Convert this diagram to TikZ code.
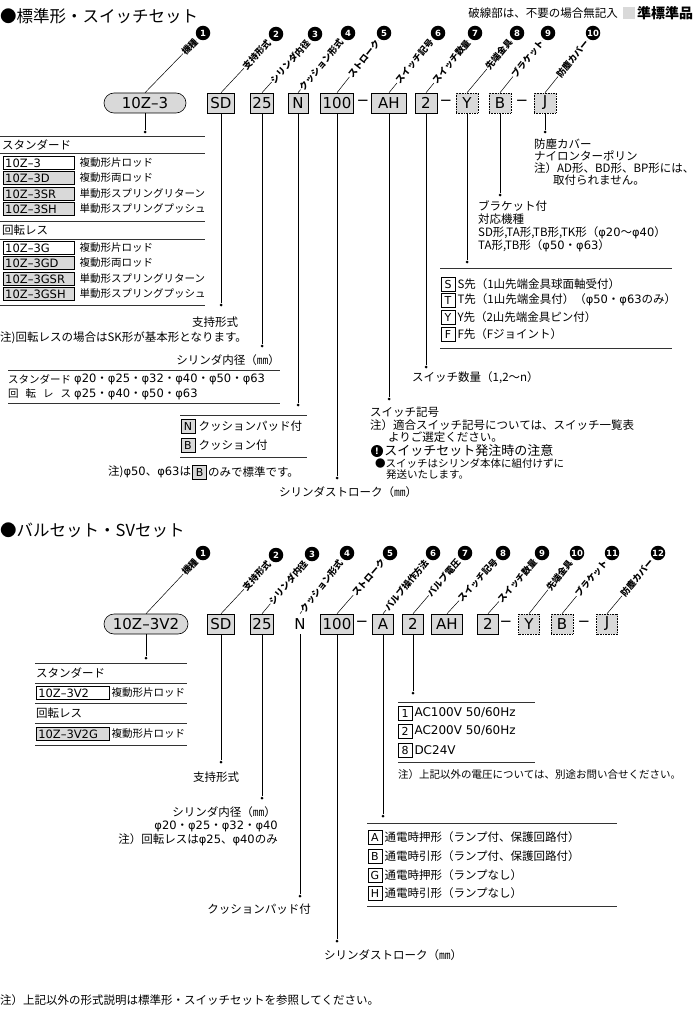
\documentclass[tikz,border=0pt]{standalone}
\usepackage{fontspec}
\setmainfont{Noto Sans CJK JP}
\newfontfamily\codefont{DejaVu Sans}
\usepackage{tikz}
\usetikzlibrary{positioning, calc}
\definecolor{boxgray}{HTML}{D9D9D9}
\tikzstyle{codebox} = [rectangle, draw=black, fill=boxgray, line width=0.6pt,
minimum height=20pt, inner sep=0pt, font=\codefont\fontsize{15}{15}\selectfont]
\tikzstyle{optbox} = [codebox, densely dotted]
\tikzstyle{pillbox} = [codebox, rounded corners=10pt]
\tikzstyle{plaincode} = [codebox, draw=none, fill=none]
\tikzstyle{numdot} = [circle, fill=black, text=white, inner sep=0pt,
minimum size=14.5pt, font=\codefont\bfseries\fontsize{8.5}{8.5}\selectfont]
\tikzstyle{tagtext} = [fill=white, inner sep=0.5pt, font=\bfseries\fontsize{9}{9.5}\selectfont]
\tikzstyle{leader} = [line width=0.5pt]
\tikzstyle{enddot} = [circle, fill=black, inner sep=0pt, minimum size=3pt]
\tikzstyle{hrule} = [line width=1pt, black!80]
\tikzstyle{desc} = [inner sep=0pt, anchor=west, font=\fontsize{11.5}{13}\selectfont]
\tikzstyle{tabdesc} = [desc, font=\fontsize{10.5}{12}\selectfont]
\tikzstyle{codecell} = [draw=black, line width=0.5pt, anchor=west, minimum height=13pt,
inner xsep=2pt, inner ysep=0pt, text width=67pt, align=left,
font=\codefont\fontsize{11.5}{12}\selectfont]
\tikzstyle{itembox} = [draw=black, line width=0.6pt, minimum width=14pt, minimum height=14pt,
inner sep=0pt, font=\codefont\fontsize{11}{11}\selectfont]
% diagonal tag from a box up to a numbered dot
\newcommand{\tagline}[6]{%
  \coordinate (#1c#5) at (#3,#4);
  \draw[leader] (#2.north) -- ($(#1c#5)!9.5pt!(#2.north)$)
    node[pos=1, sloped, anchor=east, tagtext] (#1t#5) {#6};
  \node[numdot] (#1n#5) at (#1c#5) {#5};
}
\newcommand{\dia}[1]{{\codefont φ#1}}

\begin{document}
\begin{tikzpicture}[x=1pt, y=-1pt]
  \useasboundingbox (0,0) rectangle (700,1011);
  % Heading and legend
  \node[desc, font=\fontsize{16.5}{18}\selectfont] (titleA) at (0,16) {●標準形・スイッチセット};
  \node[desc, anchor=east] (legnote) at (618,13) {破線部は、不要の場合無記入};
  \node[fill=boxgray, minimum size=12pt, inner sep=0pt] (legsq) at (629,13) {};
  \node[desc, font=\bfseries\fontsize{14}{15}\selectfont] (legtxt) at (637,13) {準標準品};

  % Code row of the standard type
  \node[pillbox, minimum width=82pt] (pillA) at (145,103) {10Z–3};
  \node[codebox, minimum width=27pt] (sdA) at (221,103) {SD};
  \node[codebox, minimum width=23pt] (boreA) at (262,103) {25};
  \node[codebox, minimum width=20pt] (cushA) at (298,103) {N};
  \node[codebox, minimum width=33pt] (strA) at (337,103) {100};
  \node[plaincode] (dashA1) at (363,103) {−};
  \node[codebox, minimum width=35pt] (swA) at (389,103) {AH};
  \node[codebox, minimum width=22pt] (cntA) at (426,103) {2};
  \node[plaincode] (dashA2) at (446,103) {−};
  \node[optbox, minimum width=22pt] (tipA) at (467,103) {Y};
  \node[optbox, minimum width=22pt] (brkA) at (500,103) {B};
  \node[plaincode] (dashA3) at (522,103) {−};
  \node[optbox, minimum width=22pt] (covA) at (545,103) {J};

  % Tags
  \tagline{a}{pillA}{203}{33}{1}{機種}
  \tagline{a}{sdA}{276}{34}{2}{支持形式}
  \tagline{a}{boreA}{315}{34}{3}{シリンダ内径}
  \tagline{a}{cushA}{348}{33}{4}{クッション形式}
  \tagline{a}{strA}{384}{33}{5}{ストローク}
  \tagline{a}{swA}{438}{33}{6}{スイッチ記号}
  \tagline{a}{cntA}{475}{33}{7}{スイッチ数量}
  \tagline{a}{tipA}{517}{33}{8}{先端金具}
  \tagline{a}{brkA}{548}{33}{9}{ブラケット}
  \tagline{a}{covA}{593}{33}{10}{防塵カバー}

  % Leaders down to the explanations
  \node[enddot] (pillAend) at (145,132) {};
  \node[enddot] (sdAend) at (221,305) {};
  \node[enddot] (boreAend) at (262,346) {};
  \node[enddot] (cushAend) at (298,405) {};
  \node[enddot] (strAend) at (337,478) {};
  \node[enddot] (swAend) at (389,399) {};
  \node[enddot] (cntAend) at (426,367) {};
  \node[enddot] (tipAend) at (467,262) {};
  \node[enddot] (brkAend) at (500,195) {};
  \node[enddot] (covAend) at (545,132) {};
  \draw[leader] (pillA) -- (pillAend);
  \draw[leader] (sdA) -- (sdAend);
  \draw[leader] (boreA) -- (boreAend);
  \draw[leader] (cushA) -- (cushAend);
  \draw[leader] (strA) -- (strAend);
  \draw[leader] (swA) -- (swAend);
  \draw[leader] (cntA) -- (cntAend);
  \draw[leader] (tipA) -- (tipAend);
  \draw[leader] (brkA) -- (brkAend);
  \draw[leader] (covA) -- (covAend);

  % Model table
  \draw[hrule] (0,137) -- (205,137);
  \node[desc] (stdA) at (2,145.5) {スタンダード};
  \draw[hrule] (0,154) -- (205,154);
  \node[codecell] (cA1) at (3,163) {10Z–3};
  \node[tabdesc, right=5pt of cA1] (cA1d) {複動形片ロッド};
  \node[codecell, fill=boxgray] (cA2) at (3,178) {10Z–3D};
  \node[tabdesc, right=5pt of cA2] (cA2d) {複動形両ロッド};
  \node[codecell, fill=boxgray] (cA3) at (3,194) {10Z–3SR};
  \node[tabdesc, right=5pt of cA3] (cA3d) {単動形スプリングリターン};
  \node[codecell, fill=boxgray] (cA4) at (3,209) {10Z–3SH};
  \node[tabdesc, right=5pt of cA4] (cA4d) {単動形スプリングプッシュ};
  \draw[hrule] (0,221) -- (205,221);
  \node[desc] (rotA) at (2,230) {回転レス};
  \draw[hrule] (0,239) -- (205,239);
  \node[codecell] (cA5) at (3,248) {10Z–3G};
  \node[tabdesc, right=5pt of cA5] (cA5d) {複動形片ロッド};
  \node[codecell, fill=boxgray] (cA6) at (3,263) {10Z–3GD};
  \node[tabdesc, right=5pt of cA6] (cA6d) {複動形両ロッド};
  \node[codecell, fill=boxgray] (cA7) at (3,279) {10Z–3GSR};
  \node[tabdesc, right=5pt of cA7] (cA7d) {単動形スプリングリターン};
  \node[codecell, fill=boxgray] (cA8) at (3,294) {10Z–3GSH};
  \node[tabdesc, right=5pt of cA8] (cA8d) {単動形スプリングプッシュ};
  \draw[hrule] (0,305) -- (205,305);

  % Mounting and bore
  \node[desc, anchor=center] (sdAlab) at (215,322) {支持形式};
  \node[desc] (sdAnote) at (0,338) {注)回転レスの場合はSK形が基本形となります。};
  \node[desc, anchor=east] (boreAlab) at (280,360) {シリンダ内径（㎜）};
  \draw[hrule] (8,370) -- (280,370);
  \node[tabdesc] (boreAs) at (8,379) {スタンダード};
  \node[desc] (boreAsv) at (74,379) {\dia{20}・\dia{25}・\dia{32}・\dia{40}・\dia{50}・\dia{63}};
  \node[tabdesc] (boreAr) at (8,394) {\makebox[6em][s]{回\hfil 転\hfil レ\hfil ス}};
  \node[desc] (boreArv) at (74,394) {\dia{25}・\dia{40}・\dia{50}・\dia{63}};
  \draw[hrule] (8,403) -- (280,403);

  % Cushion
  \draw[hrule] (180,415) -- (307,415);
  \node[itembox, fill=boxgray] (cushAn) at (188,426) {N};
  \node[desc, right=3pt of cushAn] (cushAnd) {クッションパッド付};
  \node[itembox, fill=boxgray] (cushAb) at (188,445) {B};
  \node[desc, right=3pt of cushAb] (cushAbd) {クッション付};
  \draw[hrule] (180,457) -- (307,457);
  \node[desc] (cushAnote) at (108,472) {注)\dia{50}、\dia{63}は};
  \node[itembox, fill=boxgray, right=1pt of cushAnote] (cushAnb) {B};
  \node[desc, right=1pt of cushAnb] (cushAnote2) {のみで標準です。};

  % Stroke
  \node[desc, anchor=center] (strAlab) at (348,492) {シリンダストローク（㎜）};

  % Switch code and notice
  \node[desc] (swAlab) at (370,412) {スイッチ記号};
  \node[desc] (swAnote1) at (370,425) {注）適合スイッチ記号については、スイッチ一覧表};
  \node[desc] (swAnote2) at (388,437) {よりご選定ください。};
  \node[circle, fill=black, text=white, inner sep=0pt, minimum size=12pt,
        font=\codefont\bfseries\fontsize{9}{9}\selectfont] (warnA) at (377,451) {!};
  \node[desc, font=\fontsize{13}{14}\selectfont, right=1pt of warnA] (warnAtxt) {スイッチセット発注時の注意};
  \node[tabdesc] (warnAb1) at (375,463) {●スイッチはシリンダ本体に組付けずに};
  \node[tabdesc] (warnAb2) at (386,475) {発送いたします。};

  % Switch count
  \node[desc] (cntAlab) at (412,378) {スイッチ数量（1,2〜n）};

  % Rod end
  \draw[hrule] (440,268) -- (672,268);
  \node[itembox] (tipAs) at (448,284) {S};
  \node[desc, right=2pt of tipAs] (tipAsd) {S先（1山先端金具球面軸受付）};
  \node[itembox] (tipAt) at (448,300) {T};
  \node[desc, right=2pt of tipAt] (tipAtd) {T先（1山先端金具付）（\dia{50}・\dia{63}のみ）};
  \node[itembox] (tipAy) at (448,317) {Y};
  \node[desc, right=2pt of tipAy] (tipAyd) {Y先（2山先端金具ピン付）};
  \node[itembox] (tipAf) at (448,334) {F};
  \node[desc, right=2pt of tipAf] (tipAfd) {F先（Fジョイント）};
  \draw[hrule] (440,348) -- (672,348);

  % Bracket
  \node[desc] (brkAl1) at (478,206) {ブラケット付};
  \node[desc] (brkAl2) at (478,219) {対応機種};
  \node[desc] (brkAl3) at (478,233) {SD形,TA形,TB形,TK形（\dia{20}〜\dia{40}）};
  \node[desc] (brkAl4) at (478,246) {TA形,TB形（\dia{50}・\dia{63}）};

  % Dust cover
  \node[desc] (covAl1) at (534,144) {防塵カバー};
  \node[desc] (covAl2) at (534,156) {ナイロンターポリン};
  \node[desc] (covAl3) at (534,168) {注）AD形、BD形、BP形には、};
  \node[desc] (covAl4) at (553,180) {取付られません。};

  % Valve set
  \node[desc, font=\fontsize{16.5}{18}\selectfont] (titleB) at (0,530) {●バルセット・SVセット};

  \node[pillbox, minimum width=84pt] (pillB) at (146,624) {10Z–3V2};
  \node[codebox, minimum width=27pt] (sdB) at (221,624) {SD};
  \node[codebox, minimum width=23pt] (boreB) at (262,624) {25};
  \node[plaincode] (cushB) at (300,624) {N};
  \node[codebox, minimum width=33pt] (strB) at (337,624) {100};
  \node[plaincode] (dashB1) at (362,624) {−};
  \node[codebox, minimum width=21pt] (vlvB) at (383,624) {A};
  \node[codebox, minimum width=21pt] (voltB) at (413,624) {2};
  \node[codebox, minimum width=31pt] (swB) at (447,624) {AH};
  \node[codebox, minimum width=21pt] (cntB) at (488,624) {2};
  \node[plaincode] (dashB2) at (506,624) {−};
  \node[optbox, minimum width=21pt] (tipB) at (529,624) {Y};
  \node[optbox, minimum width=22pt] (brkB) at (562,624) {B};
  \node[plaincode] (dashB3) at (584,624) {−};
  \node[optbox, minimum width=21pt] (covB) at (607,624) {J};

  \tagline{b}{pillB}{203}{553}{1}{機種}
  \tagline{b}{sdB}{276}{555}{2}{支持形式}
  \tagline{b}{boreB}{312}{554}{3}{シリンダ内径}
  \tagline{b}{cushB}{347}{553}{4}{クッション形式}
  \tagline{b}{strB}{390}{553}{5}{ストローク}
  \tagline{b}{vlvB}{433}{553}{6}{バルブ操作方法}
  \tagline{b}{voltB}{465}{553}{7}{バルブ電圧}
  \tagline{b}{swB}{503}{553}{8}{スイッチ記号}
  \tagline{b}{cntB}{542}{553}{9}{スイッチ数量}
  \tagline{b}{tipB}{577}{553}{10}{先端金具}
  \tagline{b}{brkB}{612}{553}{11}{ブラケット}
  \tagline{b}{covB}{658}{553}{12}{防塵カバー}

  \node[enddot] (pillBend) at (146,658) {};
  \node[enddot] (sdBend) at (221,762) {};
  \node[enddot] (boreBend) at (262,798) {};
  \node[enddot] (cushBend) at (300,896) {};
  \node[enddot] (strBend) at (337,941) {};
  \node[enddot] (vlvBend) at (383,816) {};
  \node[enddot] (voltBend) at (413,693) {};
  \draw[leader] (pillB) -- (pillBend);
  \draw[leader] (sdB) -- (sdBend);
  \draw[leader] (boreB) -- (boreBend);
  \draw[leader] (cushB) -- (cushBend);
  \draw[leader] (strB) -- (strBend);
  \draw[leader] (vlvB) -- (vlvBend);
  \draw[leader] (voltB) -- (voltBend);

  % Model table
  \draw[hrule] (35,663) -- (187,663);
  \node[desc] (stdB) at (36,673) {スタンダード};
  \draw[hrule] (35,683) -- (187,683);
  \node[codecell, text width=69pt] (cB1) at (36,693) {10Z–3V2};
  \node[tabdesc, right=2pt of cB1] (cB1d) {複動形片ロッド};
  \draw[hrule] (35,703) -- (187,703);
  \node[desc] (rotB) at (36,713) {回転レス};
  \draw[hrule] (35,723) -- (187,723);
  \node[codecell, text width=69pt, fill=boxgray] (cB2) at (36,734) {10Z–3V2G};
  \node[tabdesc, right=2pt of cB2] (cB2d) {複動形片ロッド};
  \draw[hrule] (35,745) -- (187,745);

  \node[desc, anchor=center] (sdBlab) at (216,777) {支持形式};
  \node[desc, anchor=east] (boreBl1) at (276,812) {シリンダ内径（㎜）};
  \node[desc, anchor=east] (boreBl2) at (278,826) {\dia{20}・\dia{25}・\dia{32}・\dia{40}};
  \node[desc, anchor=east] (boreBl3) at (278,840) {注）回転レスは\dia{25}、\dia{40}のみ};
  \node[desc, anchor=center] (cushBlab) at (259,909) {クッションパッド付};
  \node[desc, anchor=center] (strBlab) at (393,955) {シリンダストローク（㎜）};

  % Valve operation
  \draw[hrule] (367,823) -- (617,823);
  \node[itembox] (vlvBa) at (375,837) {A};
  \node[desc, right=2pt of vlvBa] (vlvBad) {通電時押形（ランプ付、保護回路付）};
  \node[itembox] (vlvBb) at (375,856) {B};
  \node[desc, right=2pt of vlvBb] (vlvBbd) {通電時引形（ランプ付、保護回路付）};
  \node[itembox] (vlvBg) at (375,875) {G};
  \node[desc, right=2pt of vlvBg] (vlvBgd) {通電時押形（ランプなし）};
  \node[itembox] (vlvBh) at (375,893) {H};
  \node[desc, right=2pt of vlvBh] (vlvBhd) {通電時引形（ランプなし）};
  \draw[hrule] (367,906) -- (617,906);

  % Valve voltage
  \draw[hrule] (398,702) -- (535,702);
  \node[itembox] (voltB1) at (405,713) {1};
  \node[desc, right=2pt of voltB1, font=\codefont\fontsize{12}{13}\selectfont] (voltB1d) {AC100V 50/60Hz};
  \node[itembox] (voltB2) at (405,731) {2};
  \node[desc, right=2pt of voltB2, font=\codefont\fontsize{12}{13}\selectfont] (voltB2d) {AC200V 50/60Hz};
  \node[itembox] (voltB8) at (405,750) {8};
  \node[desc, right=2pt of voltB8, font=\codefont\fontsize{12}{13}\selectfont] (voltB8d) {DC24V};
  \draw[hrule] (398,762) -- (535,762);
  \node[tabdesc] (voltBnote) at (398,775) {注）上記以外の電圧については、別途お問い合せください。};

  % Footnote
  \node[desc] (footnote) at (0,1000) {注）上記以外の形式説明は標準形・スイッチセットを参照してください。};
\end{tikzpicture}
\end{document}
